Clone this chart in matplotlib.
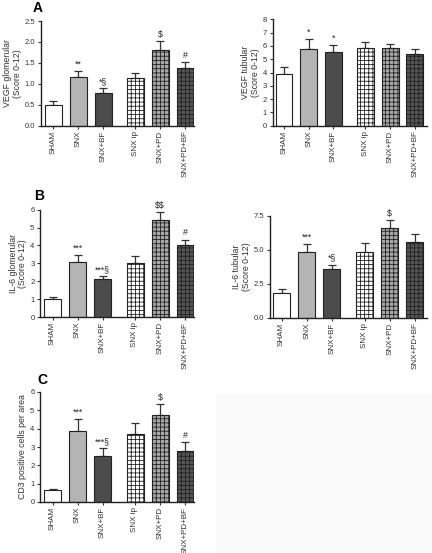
import matplotlib
matplotlib.use('Agg')
import matplotlib.pyplot as plt
from matplotlib.patches import Rectangle

plt.rcParams['font.family'] = ['Liberation Sans', 'DejaVu Sans']
plt.rcParams['hatch.linewidth'] = 0.6

groups = ['SHAM', 'SNX', 'SNX+BF', 'SNX ip', 'SNX+PD', 'SNX+PD+BF']
positions = [0, 1, 2, 3.3, 4.3, 5.3]

fills = ['white', '#b4b4b4', '#4c4c4c', 'white', '#a8a8a8', '#555555']
hatches = [None, None, None, '++++', '++++', '++++']

vegf_glom = [0.50, 1.17, 0.79, 1.13, 1.81, 1.38]
vegf_glom_err = [0.10, 0.14, 0.10, 0.13, 0.22, 0.13]
vegf_glom_sig = ['', '**', '*§', '', '$', '#']

vegf_tub = [3.85, 5.80, 5.55, 5.85, 5.82, 5.42]
vegf_tub_err = [0.60, 0.70, 0.50, 0.45, 0.33, 0.33]
vegf_tub_sig = ['', '*', '*', '', '', '']

il6_glom = [1.00, 3.05, 2.10, 3.00, 5.40, 4.00]
il6_glom_err = [0.12, 0.40, 0.18, 0.42, 0.47, 0.33]
il6_glom_sig = ['', '***', '***§', '', '$$', '#']

il6_tub = [1.80, 4.85, 3.55, 4.80, 6.60, 5.60]
il6_tub_err = [0.30, 0.60, 0.35, 0.70, 0.55, 0.55]
il6_tub_sig = ['', '***', '*§', '', '$', '']

cd3 = [0.65, 3.85, 2.52, 3.72, 4.75, 2.80]
cd3_err = [0.08, 0.70, 0.43, 0.60, 0.57, 0.45]
cd3_sig = ['', '***', '***§', '', '$', '#']

W, H = 432, 553
fig = plt.figure(figsize=(W / 100, H / 100), dpi=100)

# faint grey block bottom-right
fig.patches.append(Rectangle((216 / W, 0), 1 - 216 / W, 1 - 393 / H,
                             transform=fig.transFigure, facecolor='#fafafa',
                             edgecolor='none', zorder=0))


def panel(rect, vals, errs, sigs, ylabel, ymax, yticks, fmt, xlim):
    ax = fig.add_axes(rect)
    for p, v, e, f, h in zip(positions, vals, errs, fills, hatches):
        ax.bar(p, v, width=0.68, color=f, edgecolor='#222222',
               linewidth=0.8, hatch=h, zorder=2)
        ax.errorbar(p, v, yerr=[[0], [e]], fmt='none', ecolor='#333333',
                    elinewidth=0.9, capsize=3.2, capthick=0.9, zorder=1)
    for p, v, e, s in zip(positions, vals, errs, sigs):
        if s:
            ax.text(p, v + e + ymax * 0.02, s, ha='center', va='bottom',
                    fontsize=6.3, color='#222222', parse_math=False)
    ax.set_ylim(0, ymax)
    ax.set_xlim(*xlim)
    ax.set_yticks(yticks)
    ax.set_yticklabels([fmt.format(t) for t in yticks])
    ax.set_xticks(positions)
    ax.set_xticklabels(groups, rotation=90)
    ax.spines['top'].set_visible(False)
    ax.spines['right'].set_visible(False)
    for sp in ('left', 'bottom'):
        ax.spines[sp].set_linewidth(1.0)
        ax.spines[sp].set_color('#222222')
    ax.tick_params(axis='both', length=2.5, width=0.8, labelsize=5.5,
                   colors='#333333', pad=1.5)
    ax.tick_params(axis='x', labelsize=5.8, pad=1)
    ax.set_ylabel(ylabel, fontsize=6.3, color='#333333', labelpad=2,
                  linespacing=1.1)
    return ax


left_xlim = (-0.5, 5.66)
right_xlim = (-0.46, 5.78)

panel([41 / W, 1 - 125.7 / H, 153 / W, 104.7 / H], vegf_glom, vegf_glom_err,
      vegf_glom_sig, 'VEGF glomerular\n(Score 0-12)', 2.5,
      [0, 0.5, 1.0, 1.5, 2.0, 2.5], '{:.1f}', left_xlim)
panel([272.7 / W, 1 - 125.7 / H, 154 / W, 106.4 / H], vegf_tub, vegf_tub_err,
      vegf_tub_sig, 'VEGF tubular\n(Score 0-12)', 8,
      list(range(0, 9)), '{:d}', right_xlim)
panel([40 / W, 1 - 317 / H, 154 / W, 107.3 / H], il6_glom, il6_glom_err,
      il6_glom_sig, 'IL-6 glomerular\n(Score 0-12)', 6,
      list(range(0, 7)), '{:d}', left_xlim)
panel([270 / W, 1 - 317.7 / H, 157 / W, 102 / H], il6_tub, il6_tub_err,
      il6_tub_sig, 'IL-6 tubular\n(Score 0-12)', 7.5,
      [0, 2.5, 5.0, 7.5], '{:.1f}', right_xlim)
panel([40 / W, 1 - 502 / H, 154 / W, 110 / H], cd3, cd3_err,
      cd3_sig, 'CD3 positive cells per area', 6,
      list(range(0, 7)), '{:d}', left_xlim)

fig.text(33 / W, 1 - 8 / H, 'A', fontsize=10, fontweight='bold', va='center')
fig.text(34 / W, 1 - 196 / H, 'B', fontsize=10, fontweight='bold', va='center')
fig.text(37 / W, 1 - 380 / H, 'C', fontsize=10, fontweight='bold', va='center')

fig.savefig('out.png', dpi=100)
